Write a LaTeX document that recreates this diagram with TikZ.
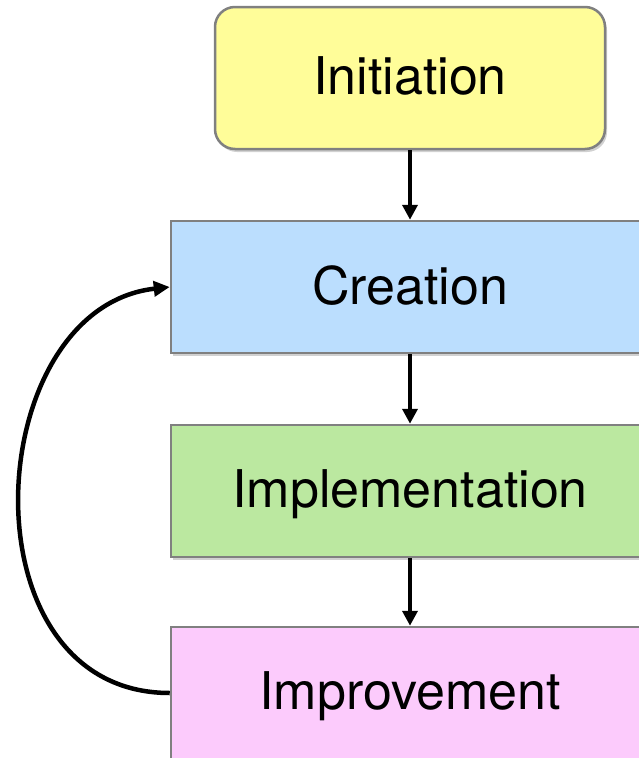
\documentclass[tikz,border=0pt]{standalone}
\usepackage{fontspec}
\setmainfont{TeX Gyre Heros}
\usetikzlibrary{shadows,arrows.meta}
\definecolor{cyellow}{HTML}{FFFD99}
\definecolor{cblue}{HTML}{BBDEFE}
\definecolor{cgreen}{HTML}{BBE8A0}
\definecolor{cpink}{HTML}{FCCBFC}
\definecolor{cborder}{HTML}{808080}
\begin{document}
\begin{tikzpicture}[x=1pt,y=-1pt,
  stagebox/.style={draw=cborder, line width=2.5pt, minimum height=132pt, inner sep=0pt,
    font=\fontsize{52}{60}\selectfont, text depth=4pt,
    drop shadow={shadow xshift=2pt, shadow yshift=-3pt, opacity=0.3, fill=black!60}},
  flow/.style={line width=4pt, -{Triangle[length=15pt,width=15pt]}},
  loop/.style={line width=4.5pt, -{Triangle[length=16pt,width=15pt]}}]
\useasboundingbox (0,0) rectangle (639,758);
\node[stagebox, fill=cyellow, rounded corners=20pt, minimum width=390pt, minimum height=142pt] (init) at (410,78) {Initiation};
\node[stagebox, fill=cblue, minimum width=478pt] (crea) at (410,287) {Creation};
\node[stagebox, fill=cgreen, minimum width=478pt] (impl) at (410,491) {Implementation};
\node[stagebox, fill=cpink, minimum width=478pt] (impr) at (410,693) {Improvement};
\draw[flow] (init.south -| 410,0) -- (crea.north -| 410,0);
\draw[flow] (crea.south -| 410,0) -- (impl.north -| 410,0);
\draw[flow] (impl.south -| 410,0) -- (impr.north -| 410,0);
\draw[loop] (impr.west |- 0,693) .. controls (-40,693) and (-20,308) .. (crea.west);
\end{tikzpicture}
\end{document}
